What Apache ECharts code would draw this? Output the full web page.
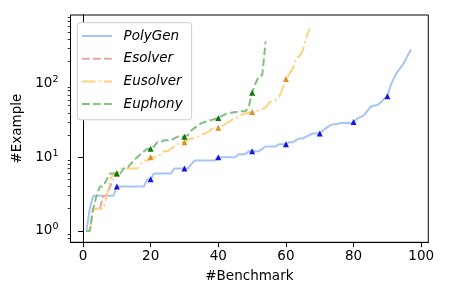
<!DOCTYPE html>
<html><head><meta charset="utf-8">
<script src="https://cdn.jsdelivr.net/npm/echarts@6/dist/echarts.min.js"></script>
<style>html,body{margin:0;padding:0;background:#fff}#c{width:450px;height:300px}</style>
</head><body><div id="c"></div>
<script>
// ---- data (x = benchmark rank 1..N, y = #examples) ----
const seriesNames = ['PolyGen', 'Esolver', 'Eusolver', 'Euphony'];
const polygen = [1,2,3,3,3,3,3,3,3,4, 4,4,4,4,4,4,4,4,5,5, 6,6,6,6,6,6,7,7,7,7,
  7,8,9,9,9,9,9,9,9,10, 10,10,10,10,10,11,11,11,12,12, 12,12,13,14,14,14,14,15,15,15,
  16,16,17,18,18,19,20,21,21,21, 23,25,27,28,28,29,29,29,29,30, 33,35,37,42,48,50,51,55,62,67,
  95,120,145,165,195,240,290];
const esolver = [1,1,2,2,2,3,3,4,5];
const eusolver = [1,1,2,2,2,2,3,5,6,6, 7,7,7,7,7,7,8,9,9,10, 10,10,11,12,12,13,14,15,16,16,
  17,18,18,19,20,21,22,24,25,25, 26,28,30,32,34,35,38,39,40,41, 42,43,45,47,55,57,60,66,85,115,
  135,160,220,235,280,420,560];
const euphony = [1,1,2,3,4,4,5,6,6,6, 6,7,7,8,9,10,11,12,13,13, 14,16,16,17,17,17,18,19,19,19,
  20,23,25,27,29,30,31,32,33,34, 36,38,40,40,41,41,42,42,48,75, 100,125,130,370];
const xTicks = [0, 20, 40, 60, 80, 100];
const yTicks = [1, 10, 100];
const yMinorTicks = [0.8, 0.9, 2, 3, 4, 5, 6, 7, 8, 9, 20, 30, 40, 50, 60, 70, 80, 90, 200, 300, 400, 500, 600, 700, 800];
const markEvery = 10;

const lineColors = ['#a8c4f4', '#e2a6a6', '#ffd27f', '#80c080'];
const markColors = ['#1414e6', '#c04040', '#e0901e', '#0a780a'];
const dashes = ['solid', [7.7, 3.3], [13.3, 3.3, 2.1, 3.3], [7.7, 3.3]];
const allData = [polygen, esolver, eusolver, euphony];

const FONT = 'DejaVu Sans';
const series = [];
allData.forEach((arr, k) => {
  series.push({
    name: seriesNames[k], type: 'line', symbol: 'none', z: 2 + k,
    data: arr.map((v, i) => [i + 1, v]),
    lineStyle: { color: lineColors[k], width: 2, type: dashes[k] },
    itemStyle: { color: lineColors[k] },
    animation: false
  });
});
allData.forEach((arr, k) => {
  const pts = arr.map((v, i) => [i + 1, v]).filter(p => p[0] % markEvery === 0);
  if (pts.length) series.push({
    type: 'scatter', symbol: 'triangle', symbolSize: 6, z: 10 + k,
    data: pts, itemStyle: { color: markColors[k], opacity: 1 }, silent: true, animation: false
  });
});

const chart = echarts.init(document.getElementById('c'), null, { renderer: 'canvas' });
chart.setOption({
  animation: false,
  backgroundColor: '#fff',
  textStyle: { fontFamily: FONT },
  grid: { left: 70.5, right: 21.7, top: 15, bottom: 57.7, show: true, borderColor: '#000', borderWidth: 1, backgroundColor: 'transparent' },
  legend: {
    orient: 'vertical', left: 77.3, top: 22.7,
    data: seriesNames,
    itemWidth: 30, itemHeight: 14, itemGap: 8.7,
    padding: [6.3, 9, 8.7, 3.7],
    itemStyle: { opacity: 0, borderWidth: 0 },
    backgroundColor: '#fff', borderColor: '#cccccc', borderWidth: 1, borderRadius: 3,
    textStyle: { fontFamily: FONT, fontStyle: 'italic', fontSize: 13.5, color: '#000', padding: [0, 0, 0, 6.6] }
  },
  xAxis: {
    type: 'value', min: -3.7, max: 102.1,
    name: '#Benchmark', nameLocation: 'middle', nameGap: 27.5,
    nameTextStyle: { fontFamily: FONT, fontSize: 13.5, color: '#000' },
    axisLine: { show: true, lineStyle: { color: '#000', width: 1 } },
    axisTick: { show: true, length: 4.9, lineStyle: { color: '#000', width: 1 }, customValues: xTicks },
    axisLabel: { customValues: xTicks, fontFamily: FONT, fontSize: 13.5, color: '#000', margin: 7.5 },
    splitLine: { show: false }
  },
  yAxis: [{
    type: 'log', logBase: 10, min: 0.7, max: 850,
    name: '#Example', nameLocation: 'middle', nameGap: 38, nameRotate: 90,
    nameTextStyle: { fontFamily: FONT, fontSize: 13.5, color: '#000' },
    axisLine: { show: true, lineStyle: { color: '#000', width: 1 } },
    axisTick: { show: true, length: 4.9, lineStyle: { color: '#000', width: 1 }, customValues: yTicks },
    axisLabel: {
      customValues: yTicks, margin: 12, color: '#000',
      formatter: v => '{b|10}{s|' + Math.round(Math.log10(v)) + '}',
      rich: {
        b: { fontFamily: FONT, fontSize: 13.5, color: '#000' },
        s: { fontFamily: FONT, fontSize: 9.5, color: '#000', verticalAlign: 'bottom', padding: [0, 0, 8, 0] }
      }
    },
    splitLine: { show: false }
  }, {
    type: 'log', logBase: 10, min: 0.7, max: 850, position: 'left',
    axisLine: { show: false },
    axisTick: { show: true, length: 2.8, lineStyle: { color: '#000', width: 0.8 }, customValues: yMinorTicks },
    axisLabel: { show: false },
    splitLine: { show: false }
  }],
  series: series
});
</script>
</body></html>
